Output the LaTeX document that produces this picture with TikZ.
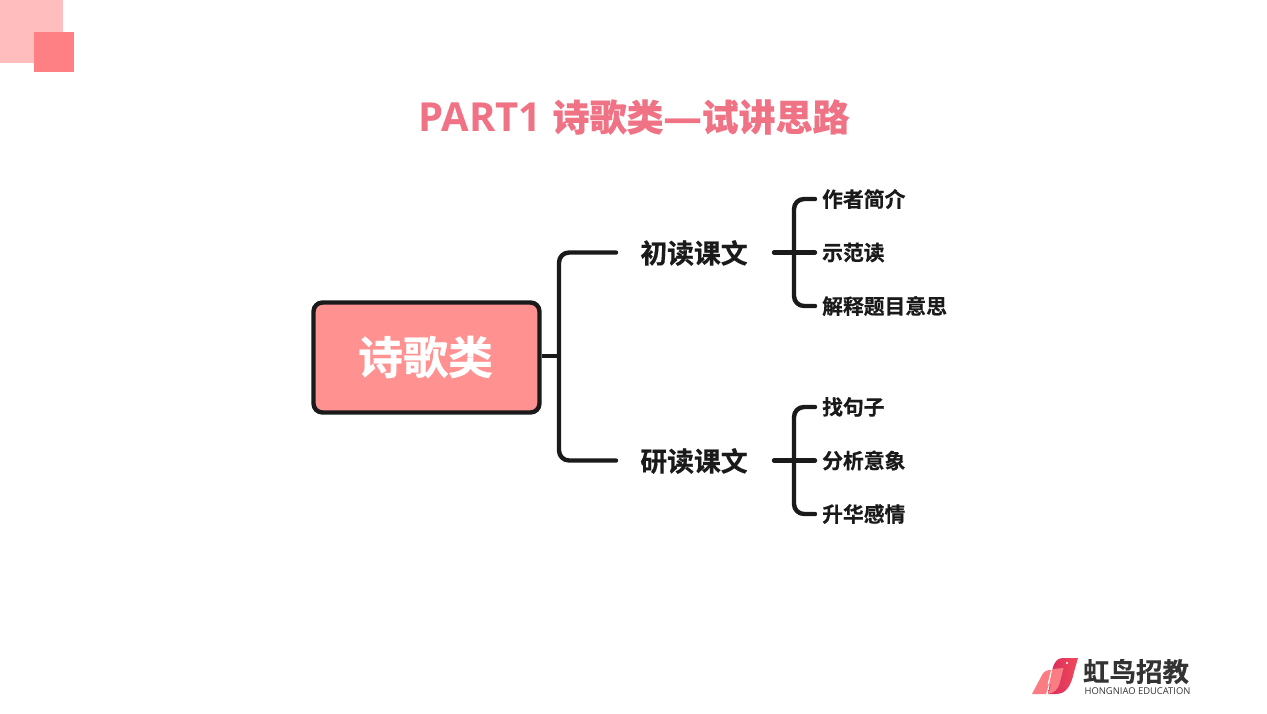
\documentclass[tikz,border=0pt]{standalone}
\usepackage{fontspec}
\setmainfont{Noto Sans CJK SC}[BoldFont={Noto Sans CJK SC Bold}]
\newfontfamily\cjkb{Noto Sans CJK SC Bold}[FakeBold=0.5]
\newfontfamily\cjkt{Noto Sans CJK SC Bold}[FakeBold=0.25]
\newfontfamily\latb{Open Sans}[BoldFont={Open Sans Bold}]
\newfontfamily\dashf{Open Sans}[FakeBold=0.6]
\usetikzlibrary{shadings}
\definecolor{titlec}{HTML}{EF7385}
\definecolor{boxc}{HTML}{FF9191}
\definecolor{linec}{HTML}{1A1A1A}
\definecolor{pale}{HTML}{FFBDBD}
\definecolor{mid}{HTML}{FF8084}
\definecolor{logot}{HTML}{333333}
\definecolor{lsal}{HTML}{FB7D84}
\definecolor{lcrim}{HTML}{D92B5E}
\definecolor{lred}{HTML}{EF4A5A}
\tikzset{
  x=1pt,y=-1pt,
  lk/.style={draw=linec,line width=4.4pt,line cap=round,line join=round,rounded corners=10pt},
  lk2/.style={draw=linec,line width=4.4pt,line cap=round},
  mainl/.style={font=\cjkb\fontsize{26.8}{27}\selectfont,text=linec,inner sep=0pt},
  subl/.style={font=\cjkb\fontsize{20.8}{21}\selectfont,text=linec,inner sep=0pt,anchor=west},
}
\begin{document}
\begin{tikzpicture}
\useasboundingbox (0,0) rectangle (1267,713);
\fill[white] (0,0) rectangle (1267,713);
% deco
\fill[pale] (0,0) rectangle (63,63);
\fill[mid] (33.5,31.5) rectangle (74,72);
% title
\node[inner sep=0pt,anchor=center,text=titlec] (title) at (634,117) {\latb\bfseries\fontsize{40}{40}\selectfont PART1\hspace{11pt}{\cjkt\fontsize{37}{37}\selectfont 诗歌类}{\dashf\fontsize{38}{38}\selectfont —}{\cjkt\fontsize{37}{37}\selectfont 试讲思路}};
% central
\node[draw=linec,fill=boxc,line width=4.4pt,rounded corners=9pt,minimum width=226pt,minimum height=110pt,inner sep=0pt] (root) at (426.5,357.5) {};
\node[font=\cjkb\fontsize{45}{46}\selectfont,text=white,inner sep=0pt] (rootl) at (425.5,357) {诗歌类};
% level 1
\node[mainl] (a) at (694,253) {初读课文};
\node[mainl] (b) at (694,461) {研读课文};
\coordinate (j) at (559,356);
\coordinate (a0) at (616,252.5);
\coordinate (b0) at (616,460.5);
\draw[lk2,line cap=butt] (root.east |- j) -- (j);
\draw[lk] (a0) -- (j |- a0) -- (j |- b0) -- (b0);
% level 2 A
\node[subl] (a1) at (822,199) {作者简介};
\node[subl] (a2) at (822,252.5) {示范读};
\node[subl] (a3) at (822,306) {解释题目意思};
\coordinate (ja) at (794,252.5);
\draw[lk] (a1.west |- 0,199) ++(-7,0) -- (ja |- 0,199) -- (ja |- 0,306) -- ([xshift=-7pt]a3.west |- 0,306);
\draw[lk2] (774,252.5) -- ([xshift=-7pt]a2.west |- ja);
% level 2 B
\node[subl] (b1) at (822,407) {找句子};
\node[subl] (b2) at (822,460.5) {分析意象};
\node[subl] (b3) at (822,514) {升华感情};
\coordinate (jb) at (794,460.5);
\draw[lk] (b1.west |- 0,407) ++(-7,0) -- (jb |- 0,407) -- (jb |- 0,514) -- ([xshift=-7pt]b3.west |- 0,514);
\draw[lk2] (774,460.5) -- ([xshift=-7pt]b2.west |- jb);
% logo
\shade[left color=lcrim,right color=lred] (1053,667) .. controls (1055,662) and (1057,658) .. (1063,658) -- (1078,658) -- (1074,672) .. controls (1071,686) and (1066,694) .. (1056,694) -- (1048,694) -- cycle;
\fill[lsal] (1052.5,669) -- (1063.5,668) -- (1060,682) .. controls (1058,690) and (1054,693) .. (1048,694) -- (1051,684.5) -- (1049,684.5) -- cycle;
\fill[lsal] (1032,694) -- (1042,675) .. controls (1044,671) and (1047,670) .. (1051,670) -- (1047.5,684) -- (1049,684) -- (1046,694) -- cycle;
\fill[white] (1067,663) circle (1.2);
\node[font=\cjkt\fontsize{26.5}{27}\selectfont,text=logot,inner sep=0pt] (logo) at (1136,671.5) {虹鸟招教};
\node[font=\latb\fontsize{9.4}{10}\selectfont,text=logot,inner sep=0pt] (logos) at (1137.5,691) {HONGNIAO EDUCATION};
\end{tikzpicture}
\end{document}
